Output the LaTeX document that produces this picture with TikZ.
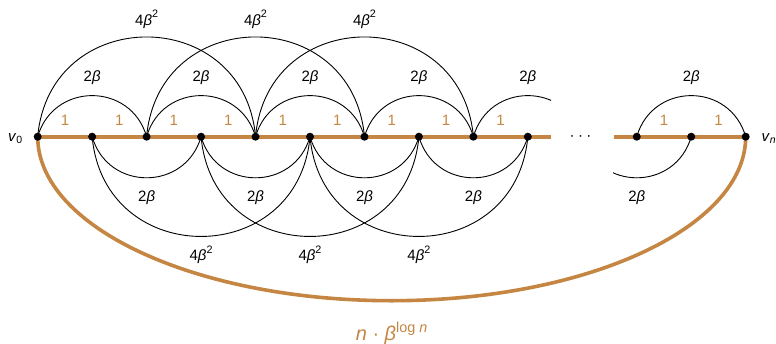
\documentclass[tikz,border=0pt]{standalone}
\usepackage{fontspec}
\setmainfont{Liberation Sans}
\usepackage{graphicx}
\usetikzlibrary{backgrounds}
\definecolor{edgebrown}{RGB}{196,134,66}
\newcommand{\supsc}[2][0.42em]{\raisebox{#1}{\scalebox{0.72}{#2}}}
\begin{document}
\begin{tikzpicture}[x=1pt,y=-1pt,
  dot/.style={circle,fill=black,inner sep=0pt,minimum size=8pt},
  lab/.style={font=\fontsize{15}{15}\selectfont,anchor=base,inner sep=0pt},
  onelab/.style={lab,text=edgebrown},
  bigl/.style={font=\fontsize{20}{20}\selectfont,anchor=base,inner sep=0pt,text=edgebrown},
  pathe/.style={draw=edgebrown,line width=3.6pt},
  arc/.style={draw=black,line width=0.9pt}]
\useasboundingbox (0,0) rectangle (776,343);
\def\yl{136.7}
% nodes
\foreach \i in {0,...,9}{
  \node[dot] (n\i) at ({37.7+54.46*\i},\yl) {};
}
\node[dot] (na) at ({37.7+54.46*11},\yl) {};
\node[dot] (nb) at ({37.7+54.46*12},\yl) {};
\node[dot] (nn) at ({37.7+54.46*13},\yl) {};
\coordinate (cutL) at (551,\yl);
\coordinate (cutR) at (614,\yl);
\coordinate (ghost) at ({37.7+54.46*10},\yl);
% labels of endpoints
\node[lab,anchor=base west] (lv0) at (8,141.5) {\textit{v}\textsubscript{0}};
\node[lab,anchor=base west] (lvn) at (761.5,141.5) {\textit{v}\textsubscript{\textit{n}}};
\node[lab] (dots) at (580.5,140.5) {·\hspace{3.5pt}·\hspace{3.5pt}·};

\begin{pgfonlayer}{background}
% path edges
\draw[pathe] (n0.center) -- (cutL);
\draw[pathe] (cutR) -- (nn.center);
\draw[pathe] (n0.center) arc[start angle=180,end angle=0,x radius=354,y radius=164];
% top 2beta arcs
\foreach \a/\b in {0/2,2/4,4/6,6/8}{
  \draw[arc] (n\a.center) .. controls +(15.7,-54.8) and +(-15.7,-54.8) .. (n\b.center);
}
\draw[arc] (na.center) .. controls +(15.7,-54.8) and +(-15.7,-54.8) .. (nn.center);
\begin{scope}
  \clip (0,0) rectangle (551,343);
  \draw[arc] (n8.center) .. controls +(15.7,-54.8) and +(-15.7,-54.8) .. (ghost);
\end{scope}
% top 4beta^2 arcs
\foreach \a/\b in {0/4,2/6,4/8}{
  \draw[arc] (n\a.center) .. controls +(12,-133) and +(-12,-133) .. (n\b.center);
}
% bottom 2beta arcs
\foreach \a/\b in {1/3,3/5,5/7,7/9}{
  \draw[arc] (n\a.center) .. controls +(15.7,54.8) and +(-15.7,54.8) .. (n\b.center);
}
\begin{scope}
  \clip (613,0) rectangle (776,343);
  \draw[arc] (ghost) .. controls +(15.7,54.8) and +(-15.7,54.8) .. (nb.center);
\end{scope}
% bottom 4beta^2 arcs
\foreach \a/\b in {1/5,3/7,5/9}{
  \draw[arc] (n\a.center) .. controls +(12,133) and +(-12,133) .. (n\b.center);
}
\end{pgfonlayer}

% unit labels
\foreach \i in {0,...,8}{
  \node[onelab] (one\i) at ({37.7+54.46*(\i+0.5)},125) {1};
}
\node[onelab] (oneA) at ({37.7+54.46*11.5},125) {1};
\node[onelab] (oneB) at ({37.7+54.46*12.5},125) {1};
% top labels
\foreach \m in {1,3,5,7,9}{
  \node[lab] (t2b\m) at ({37.7+54.46*\m},81.7) {2\textit{β}};
}
\node[lab] (t2bR) at ({37.7+54.46*12},81.7) {2\textit{β}};
\foreach \m in {2,4,6}{
  \node[lab] (t4b\m) at ({37.7+54.46*\m},25) {4\textit{β}\supsc[0.5em]{2}};
}
% bottom labels
\foreach \m in {2,4,6,8}{
  \node[lab] (b2b\m) at ({37.7+54.46*\m},201.7) {2\textit{β}};
}
\node[lab] (b2bR) at ({37.7+54.46*11},201.7) {2\textit{β}};
\foreach \m in {3,5,7}{
  \node[lab] (b4b\m) at ({37.7+54.46*\m},260.7) {4\textit{β}\supsc[0.5em]{2}};
}
\node[bigl] (biglab) at (391.6,340) {\textit{n} · \textit{β}\supsc[0.36em]{log \textit{n}}};
\end{tikzpicture}
\end{document}
